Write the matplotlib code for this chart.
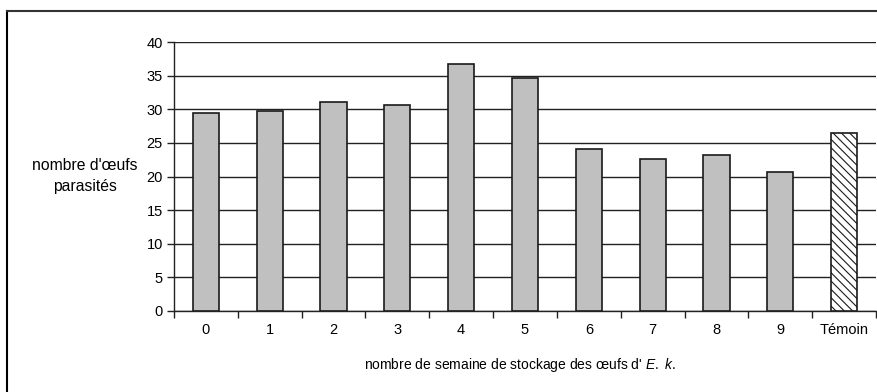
import matplotlib
matplotlib.use("Agg")
import matplotlib.pyplot as plt
from matplotlib.lines import Line2D
import numpy as np

plt.rcParams['font.family'] = ['Liberation Sans', 'DejaVu Sans']
plt.rcParams['mathtext.fontset'] = 'custom'
plt.rcParams['mathtext.rm'] = 'Liberation Sans'
plt.rcParams['mathtext.it'] = 'Liberation Sans:italic'
plt.rcParams['hatch.linewidth'] = 0.8

categories = ['0', '1', '2', '3', '4', '5', '6', '7', '8', '9', 'Témoin']
values = [29.5, 29.7, 31.1, 30.7, 36.7, 34.6, 24.1, 22.6, 23.2, 20.7, 26.4]
y_ticks = [0, 5, 10, 15, 20, 25, 30, 35, 40]

W, H = 877, 392
fig = plt.figure(figsize=(W / 100, H / 100), dpi=100)
ax = fig.add_axes([174 / W, 1 - 311 / H, (876 - 174) / W, (311 - 42) / H])

x = np.arange(len(categories))
ax.bar(x[:-1], values[:-1], width=0.41, color='#c0c0c0',
       edgecolor='#1a1a1a', linewidth=1.2, zorder=3)
ax.bar(x[-1], values[-1], width=0.41, color='white', edgecolor='#1a1a1a',
       hatch='\\\\\\\\', linewidth=1.2, zorder=3)

ax.set_xlim(-0.5, len(categories) - 0.5)
ax.set_ylim(0, 40)
ax.set_yticks(y_ticks)
ax.yaxis.grid(True, color='#222222', linewidth=1.0, zorder=0)
ax.set_axisbelow(True)

ax.set_xticks(x)
ax.set_xticklabels(categories, fontsize=10.5)
ax.set_xticks(np.arange(-0.5, len(categories), 1.0), minor=True)
ax.tick_params(axis='x', which='major', length=0, pad=9)
ax.tick_params(axis='x', which='minor', length=5, width=1, color='#222222',
               direction='out')
ax.tick_params(axis='y', length=5, width=1, color='#222222', labelsize=10.5,
               pad=3)

for side in ['top', 'right']:
    ax.spines[side].set_visible(False)
for side in ['left', 'bottom']:
    ax.spines[side].set_color('#222222')
    ax.spines[side].set_linewidth(1.0)

fig.text(85 / W, 1 - 176 / H, "nombre d'œufs\nparasités", ha='center',
         va='center', fontsize=11.3, linespacing=1.5)
fig.text(520 / W, 1 - 365 / H,
         r"nombre de semaine de stockage des œufs d' $\it{E.\ k.}$",
         ha='center', va='center', fontsize=10)

# frame edges along the left and top of the figure
fig.add_artist(Line2D([7 / W, 7 / W], [0, 1 - 11 / H], color='black',
                      linewidth=1.5, transform=fig.transFigure))
fig.add_artist(Line2D([7 / W, 1], [1 - 11 / H, 1 - 11 / H], color='#333333',
                      linewidth=1.5, transform=fig.transFigure))

fig.savefig('out.png', dpi=100)
